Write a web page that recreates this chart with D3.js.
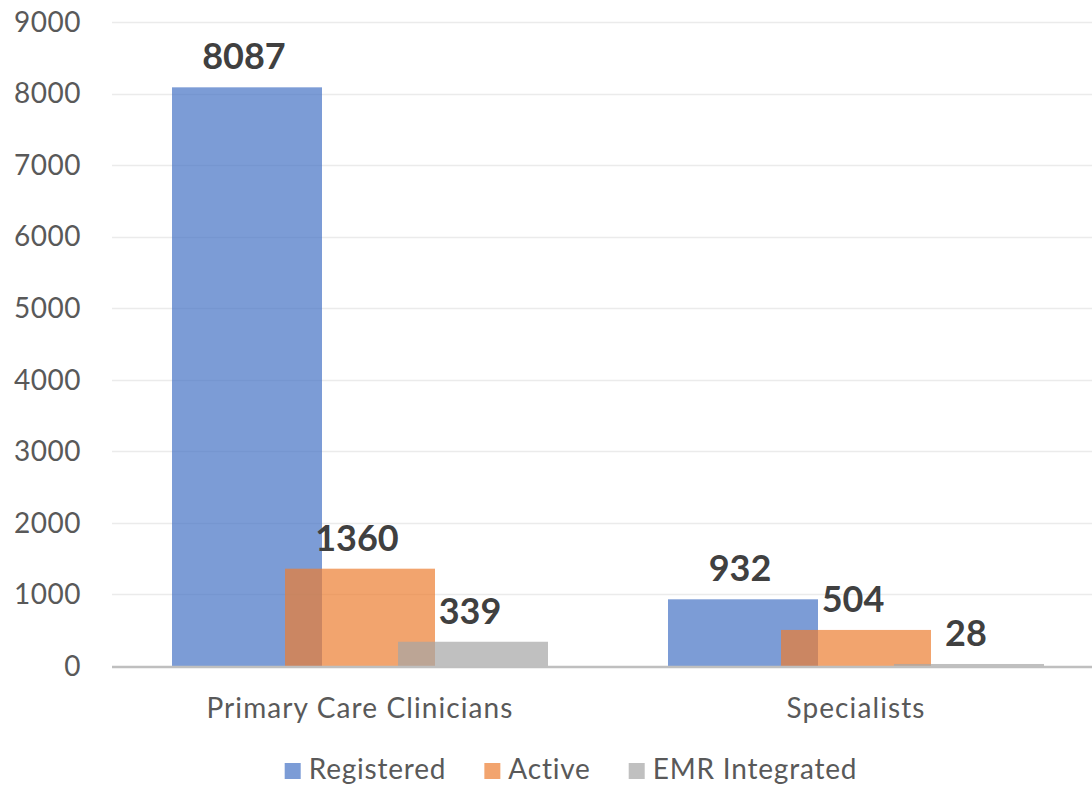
<!DOCTYPE html>
<html><head><meta charset="utf-8">
<script src="https://cdn.jsdelivr.net/npm/d3@7"></script>
<style>body{margin:0;background:#fff}svg{display:block}text{font-family:Lato,"Open Sans",sans-serif}</style>
</head><body><svg id="c" width="1092" height="786"></svg>
<script>
const categories = ["Primary Care Clinicians", "Specialists"];
const seriesNames = ["Registered", "Active", "EMR Integrated"];
const registered = [8087, 932];
const active = [1360, 504];
const emrIntegrated = [339, 28];
const yTicks = [0,1000,2000,3000,4000,5000,6000,7000,8000,9000];
const colors = ["#4472C4", "#ED7D31", "#A5A5A5"];

const seriesValues = [registered, active, emrIntegrated];
const svg = d3.select("#c");
const y = d3.scaleLinear().domain([0, 9000]).range([666, 22]);
const x = d3.scaleBand().domain(categories).range([112, 1104]).padding(0);
const barW = 150, step = 113;
const groupW = barW + step * 2;

svg.append("g").selectAll("line").data(yTicks.filter(d => d > 0)).join("line")
  .attr("x1", 112).attr("x2", 1092)
  .attr("y1", d => Math.round(y(d)) + 0.5).attr("y2", d => Math.round(y(d)) + 0.5)
  .attr("stroke", "#ebebeb").attr("stroke-width", 1.3);

svg.append("g").selectAll("text").data(yTicks).join("text")
  .attr("x", 81).attr("y", d => y(d)).attr("dy", "0.35em")
  .attr("text-anchor", "end").attr("fill", "#595959")
  .style("font-size", "28px").style("letter-spacing", "0.5px").text(d => d);

seriesValues.forEach((vals, si) => {
  svg.append("g").selectAll("rect").data(categories).join("rect")
    .attr("x", (c) => x(c) + (x.bandwidth() - groupW) / 2 + si * step)
    .attr("width", barW)
    .attr("y", (c, i) => y(vals[i]))
    .attr("height", (c, i) => y(0) - y(vals[i]))
    .attr("fill", colors[si]).attr("fill-opacity", 0.7);
});

svg.append("line").attr("x1", 112).attr("x2", 1092).attr("y1", 667).attr("y2", 667)
  .attr("stroke", "#bfbfbf").attr("stroke-width", 2.5);

seriesValues.forEach((vals, si) => {
  svg.append("g").selectAll("text").data(categories).join("text")
    .attr("x", (c) => x(c) + (x.bandwidth() - groupW) / 2 + si * step + barW / 2 - 3)
    .attr("y", (c, i) => y(vals[i]) - 18)
    .attr("text-anchor", "middle").attr("fill", "#404040")
    .style("font-size", "36px").style("font-weight", "bold")
    .text((c, i) => vals[i]);
});

svg.append("g").selectAll("text").data(categories).join("text")
  .attr("x", c => x(c) + x.bandwidth() / 2).attr("y", 718)
  .attr("text-anchor", "middle").attr("fill", "#595959")
  .style("font-size", "28px").style("letter-spacing", "1.1px").text(c => c);

const lg = svg.append("g");
let lx = 0;
seriesNames.forEach((n, i) => {
  const g = lg.append("g").attr("transform", `translate(${lx},0)`);
  g.append("rect").attr("x", 0).attr("y", -16).attr("width", 16).attr("height", 16)
    .attr("fill", colors[i]).attr("fill-opacity", 0.7);
  const t = g.append("text").attr("x", 24).attr("y", 0).attr("fill", "#595959")
    .style("font-size", "28px").style("letter-spacing", "0.8px").text(n);
  const w = t.node().getComputedTextLength();
  lx += 24 + w + 38;
});
const totalW = lx - 38;
lg.attr("transform", `translate(${571 - totalW / 2},779)`);
</script></body></html>
